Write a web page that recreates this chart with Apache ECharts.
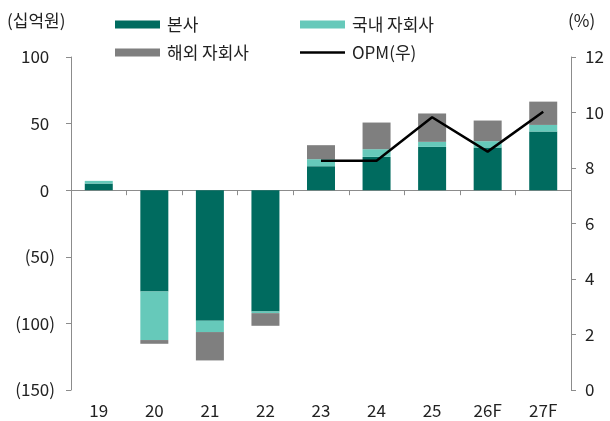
<!DOCTYPE html>
<html><head><meta charset="utf-8">
<script src="https://cdn.jsdelivr.net/npm/echarts@6/dist/echarts.min.js"></script>
<style>html,body{margin:0;padding:0;background:#fff}#c{width:610px;height:421px}</style>
</head><body><div id="c"></div>
<script>
const categories = ['19','20','21','22','23','24','25','26F','27F'];
const hq  = [5, -76, -98, -91, 18, 25, 32.5, 32, 44];
const dom = [2, -36.5, -8.5, -1.3, 5.3, 5.8, 3.8, 4.8, 5];
const ovs = [0, -2.8, -21.3, -9.5, 10.5, 20, 21.3, 15.5, 17.5];
const opm = [null, null, null, null, 8.26, 8.26, 9.83, 8.59, 10.03];
const leftTicks = {min: -150, max: 100, interval: 50};
const rightTicks = {min: 0, max: 12, interval: 2};

const FONT = '"Noto Sans CJK KR", "Noto Sans", sans-serif';
const TXT = '#222';
const AX = '#8c8c8c';
const chart = echarts.init(document.getElementById('c'), null, {renderer: 'canvas'});
const barCommon = {type: 'bar', stack: 'a', barWidth: 28, xAxisIndex: 0, yAxisIndex: 0};
const legendCommon = {orient: 'vertical', top: 11, itemWidth: 45, itemHeight: 8, itemGap: 11,
  symbolKeepAspect: true,
  textStyle: {fontSize: 17, color: TXT, fontFamily: FONT, padding: [0, 0, 0, 2]}};
chart.setOption({
  animation: false,
  textStyle: {fontFamily: FONT},
  grid: {left: 71, right: 39, top: 57, bottom: 31},
  graphic: [
    {type: 'text', left: 7, top: 12, style: {text: '(십억원)', font: '17px ' + FONT, fill: TXT}},
    {type: 'text', left: 568, top: 12, style: {text: '(%)', font: '17px ' + FONT, fill: TXT}}
  ],
  legend: [
    Object.assign({}, legendCommon, {left: 110,
     data: [{name: '본사', icon: 'rect'}, {name: '해외 자회사', icon: 'rect'}]}),
    Object.assign({}, legendCommon, {left: 295,
     data: [{name: '국내 자회사', icon: 'rect'},
            {name: 'OPM(우)', icon: 'path://M0,0H45V2.5H0Z', itemStyle: {color: '#000', borderWidth: 0}}]})
  ],
  xAxis: [
    {type: 'category', data: categories, boundaryGap: true,
     axisLine: {onZero: true, lineStyle: {color: AX, width: 1}},
     axisTick: {show: true, length: 5, lineStyle: {color: AX}},
     axisLabel: {show: false}, splitLine: {show: false}},
    {type: 'category', data: categories, position: 'bottom', boundaryGap: true,
     axisLine: {show: false, onZero: false}, axisTick: {show: false},
     axisLabel: {show: true, margin: 12, fontSize: 17, color: TXT, fontFamily: FONT},
     splitLine: {show: false}}
  ],
  yAxis: [
    {type: 'value', min: leftTicks.min, max: leftTicks.max, interval: leftTicks.interval, position: 'left',
     axisLine: {show: true, lineStyle: {color: AX}},
     axisTick: {show: true, length: 5, lineStyle: {color: AX}},
     splitLine: {show: false},
     axisLabel: {margin: 16, fontSize: 17, color: TXT, fontFamily: FONT,
       formatter: v => v < 0 ? '{a|(' + Math.abs(v) + ')}' : '{a|' + v + '}{p|)}',
       rich: {a: {fontSize: 17, color: TXT, fontFamily: FONT}, p: {fontSize: 17, color: 'rgba(0,0,0,0)', fontFamily: FONT}}}},
    {type: 'value', min: rightTicks.min, max: rightTicks.max, interval: rightTicks.interval, position: 'right',
     axisLine: {show: true, onZero: false, lineStyle: {color: AX}},
     axisTick: {show: true, length: 5, lineStyle: {color: AX}},
     splitLine: {show: false},
     axisLabel: {margin: 14, fontSize: 17, color: TXT, fontFamily: FONT}}
  ],
  series: [
    Object.assign({}, barCommon, {name: '본사', data: hq, itemStyle: {color: '#006b5f'}}),
    Object.assign({}, barCommon, {name: '국내 자회사', data: dom, itemStyle: {color: '#66c9ba'}}),
    Object.assign({}, barCommon, {name: '해외 자회사', data: ovs, itemStyle: {color: '#7f7f7f'}}),
    {type: 'line', name: 'OPM(우)', data: opm, xAxisIndex: 0, yAxisIndex: 1, symbol: 'none', showSymbol: false,
     lineStyle: {color: '#000', width: 2.5}, itemStyle: {color: '#000'}, z: 5}
  ]
});
</script></body></html>
